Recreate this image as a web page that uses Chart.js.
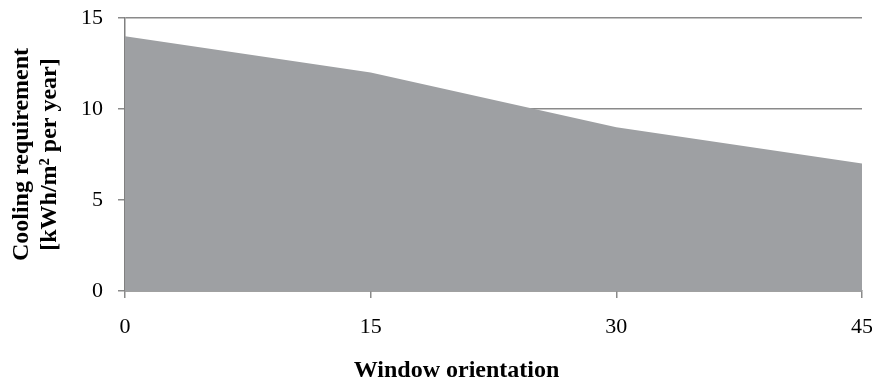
<!DOCTYPE html>
<html>
<head>
<meta charset="utf-8">
<script src="https://cdn.jsdelivr.net/npm/chart.js@4/dist/chart.umd.min.js"></script>
<style>
  html, body { margin: 0; padding: 0; background: #ffffff; }
  #wrap { width: 872px; height: 383px; position: relative; }
</style>
</head>
<body>
<div id="wrap"><canvas id="c"></canvas></div>
<script>
// Data
const orientations = [0, 15, 30, 45];
const coolingRequirement = [14, 12, 9, 7];
const xTicks = [0, 15, 30, 45];
const yTicks = [0, 5, 10, 15];
const xTitle = 'Window orientation';
const yTitle = ['Cooling requirement', '[kWh/m² per year]'];

const FONT = "'Liberation Serif', 'Times New Roman', serif";

const xTitlePlugin = {
  id: 'xTitlePlugin',
  afterDraw(chart) {
    const ctx = chart.ctx;
    ctx.save();
    ctx.font = "bold 24px " + FONT;
    ctx.fillStyle = '#000';
    ctx.textAlign = 'center';
    ctx.textBaseline = 'alphabetic';
    ctx.fillText(xTitle, chart.width * 0.5236, chart.chartArea.bottom + 86);
    ctx.restore();
  }
};

new Chart(document.getElementById('c'), {
  type: 'line',
  data: {
    datasets: [{
      data: orientations.map((x, i) => ({ x: x, y: coolingRequirement[i] })),
      fill: 'origin',
      backgroundColor: '#9ea0a3',
      borderWidth: 0,
      borderColor: 'rgba(0,0,0,0)',
      pointRadius: 0,
      tension: 0
    }]
  },
  options: {
    responsive: true,
    maintainAspectRatio: false,
    animation: false,
    events: [],
    layout: { padding: 0 },
    plugins: { legend: { display: false }, tooltip: { enabled: false } },
    scales: {
      x: {
        type: 'linear',
        min: 0,
        max: 45,
        afterBuildTicks(scale) { scale.ticks = xTicks.map(v => ({ value: v })); },
        afterFit(scale) {
          scale.height = 92;
          scale.paddingRight = 10;
          scale.paddingLeft = 0;
        },
        grid: {
          drawOnChartArea: false,
          drawTicks: true,
          tickLength: 7,
          color: '#8a8a8a',
          lineWidth: 1.5
        },
        border: { display: true, color: '#808080', width: 1.5 },
        ticks: {
          padding: 16,
          color: '#000',
          font: { family: FONT, size: 22 },
          maxRotation: 0
        }
      },
      y: {
        min: 0,
        max: 15,
        afterBuildTicks(scale) { scale.ticks = yTicks.map(v => ({ value: v })); },
        afterFit(scale) {
          scale.width = 125;
          scale.paddingTop = 18;
          scale.paddingBottom = 0;
        },
        grid: {
          drawTicks: true,
          tickLength: 7,
          color: '#8a8a8a',
          lineWidth: 1.5
        },
        border: { display: true, color: '#808080', width: 1.5 },
        ticks: {
          padding: 15,
          color: '#000',
          font: { family: FONT, size: 22 }
        },
        title: {
          display: true,
          text: yTitle,
          color: '#000',
          font: { family: FONT, size: 24, weight: 'bold', lineHeight: 1.15 },
          padding: { top: 8, bottom: 0 }
        }
      }
    }
  },
  plugins: [xTitlePlugin]
});
</script>
</body>
</html>
